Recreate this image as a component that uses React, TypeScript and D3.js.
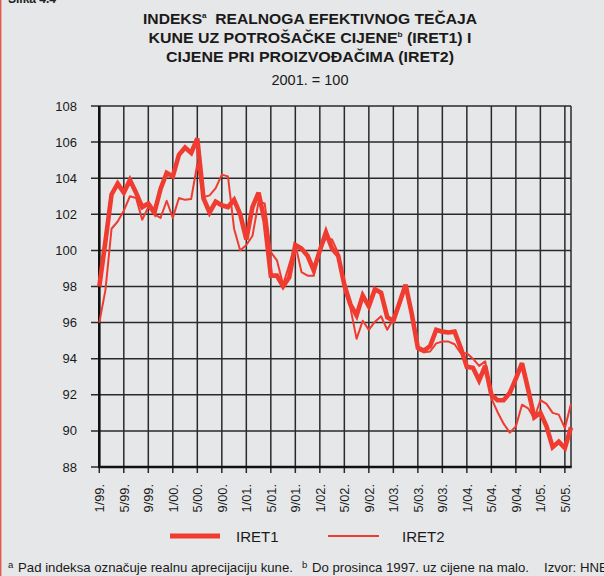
import React from 'react'
import * as d3 from 'd3'

// monthly, 1/99 .. 6/05
const months = d3.timeMonth.range(new Date(1999, 0, 1), new Date(2005, 6, 1))

const iret1 = [
  98.0, 100.5, 103.1, 103.7, 103.2, 103.9, 103.2, 102.4, 102.6, 102.1, 103.4, 104.3,
  104.1, 105.3, 105.7, 105.4, 106.2, 102.9, 102.1, 102.7, 102.5, 102.4, 102.8, 102.0,
  100.6, 102.4, 103.2, 101.6, 98.6, 98.6, 98.0, 98.5, 100.3, 100.1, 99.7, 98.9,
  100.0, 101.0, 100.1, 99.7, 98.1, 97.0, 96.4, 97.5, 96.9, 97.85, 97.65, 96.3,
  96.1, 97.1, 98.1, 96.5, 94.6, 94.45, 94.7, 95.6, 95.5, 95.45, 95.5, 94.6,
  93.55, 93.5, 92.8, 93.6, 92.0, 91.7, 91.7, 92.1, 92.9, 93.75, 92.3, 90.75,
  91.0, 90.25, 89.1, 89.4, 89.05, 90.2
]

const iret2 = [
  96.0, 97.8, 101.2, 101.6, 102.2, 103.0, 102.9, 101.7, 102.4, 102.0, 101.8, 102.75,
  101.8, 102.9, 102.8, 102.85, 104.8, 102.95, 103.05, 103.45, 104.2, 104.1, 101.2, 100.0,
  100.3, 100.8, 102.7, 102.6, 99.9, 99.45, 98.1, 99.2, 100.35, 98.8, 98.6, 98.6,
  100.0, 100.7, 100.6, 99.85, 97.8, 96.8, 95.1, 96.1, 95.6, 96.05, 96.35, 95.6,
  96.2, 96.9, 98.0, 96.7, 94.5, 94.35, 94.4, 94.85, 94.95, 94.95, 94.8, 94.3,
  94.3, 94.0, 93.6, 93.85, 91.8, 91.05, 90.4, 89.9, 90.25, 91.45, 91.25, 90.7,
  91.7, 91.5, 91.0, 90.9, 90.15, 91.5
]

const yTicks = [88, 90, 92, 94, 96, 98, 100, 102, 104, 106, 108]
const xTickLabels = [
  '1/99.', '5/99.', '9/99.', '1/00.', '5/00.', '9/00.', '1/01.', '5/01.', '9/01.', '1/02.',
  '5/02.', '9/02.', '1/03.', '5/03.', '9/03.', '1/04.', '5/04.', '9/04.', '1/05.', '5/05.'
]

const W = 604, H = 576
const left = 99.3, right = 571, top = 106, bottom = 467
const red = '#ef3b30'
const grid = '#2a2a2a'
const font = '"Liberation Sans", Arial, sans-serif'

const App = () => {
  const x = d3.scaleLinear().domain([0, months.length - 1]).range([left, right])
  const y = d3.scaleLinear().domain([88, 108]).range([bottom, top])
  const line = d3.line<number>().x((d, i) => x(i)).y(d => y(d))
  const tickIdx = xTickLabels.map((d, i) => i * 4)

  return (
    <svg width={W} height={H} style={{ position: 'absolute', left: 0, top: 0, display: 'block' }}
      fontFamily={font}>
      <rect width={W} height={H} fill="#e6e7e8" />
      <line x1={0.7} x2={0.7} y1={0} y2={H} stroke="#e5584f" strokeWidth={1.4} />
      <text x={8} y={3} fontSize={12} fontWeight="bold" fill="#222">Slika 4.4</text>

      {/* title */}
      <g fill="#1a1a1a" fontWeight="bold" fontSize={15.5} textAnchor="middle">
        <text x={310} y={24} textLength={334} lengthAdjust="spacingAndGlyphs">
          INDEKS<tspan fontSize={8} dy={-6}>a</tspan><tspan dy={6}>{'\u00a0 REALNOGA EFEKTIVNOG TEČAJA'}</tspan>
        </text>
        <text x={310} y={43} textLength={323} lengthAdjust="spacingAndGlyphs">
          KUNE UZ POTROŠAČKE CIJENE<tspan fontSize={8} dy={-6}>b</tspan><tspan dy={6}> (IRET1) I</tspan>
        </text>
        <text x={310} y={62} textLength={288} lengthAdjust="spacingAndGlyphs">
          CIJENE PRI PROIZVOĐAČIMA (IRET2)
        </text>
      </g>
      <text x={310} y={85} fontSize={14.5} textAnchor="middle" fill="#1a1a1a">2001. = 100</text>

      {/* grid */}
      {yTicks.map(t => (
        <g key={'y' + t}>
          <line x1={91} x2={right} y1={y(t)} y2={y(t)} stroke={grid} strokeWidth={1.5} />
          <text x={77} y={y(t) + 4.5} fontSize={13} textAnchor="end" fill="#1a1a1a">{t}</text>
        </g>
      ))}
      {tickIdx.map((idx, i) => (
        <g key={'x' + idx}>
          <line x1={x(idx)} x2={x(idx)} y1={top} y2={bottom + 6} stroke={grid} strokeWidth={1.5} />
          <text transform={`translate(${x(idx) + 5},${bottom + 17}) rotate(-90)`} fontSize={12.8}
            textAnchor="end" fill="#1a1a1a">{xTickLabels[i]}</text>
        </g>
      ))}
      <line x1={right} x2={right} y1={top} y2={bottom} stroke={grid} strokeWidth={1.5} />
      <line x1={left} x2={left} y1={top} y2={bottom + 1} stroke="#111" strokeWidth={2.6} />
      <line x1={left - 1} x2={right + 0.7} y1={bottom} y2={bottom} stroke="#111" strokeWidth={2.4} />

      {/* series */}
      <path d={line(iret2) || ''} fill="none" stroke={red} strokeWidth={2} strokeLinejoin="round" />
      <path d={line(iret1) || ''} fill="none" stroke={red} strokeWidth={4.6} strokeLinejoin="miter" strokeMiterlimit={3} />

      {/* legend */}
      <line x1={170} x2={220} y1={536} y2={536} stroke={red} strokeWidth={5} />
      <text x={236} y={542} fontSize={15} fill="#1a1a1a">IRET1</text>
      <line x1={328} x2={379} y1={536} y2={536} stroke={red} strokeWidth={2} />
      <text x={402} y={542} fontSize={15} fill="#1a1a1a">IRET2</text>

      {/* footnote */}
      <text x={8} y={572} fontSize={13.2} fill="#1a1a1a">
        <tspan fontSize={9.5} dy={-4.5}>a</tspan>
        <tspan x={18} dy={4.5}>Pad indeksa označuje realnu aprecijaciju kune.</tspan>
        <tspan x={302} fontSize={9.5} dy={-4.5}>b</tspan>
        <tspan x={312} dy={4.5}>Do prosinca 1997. uz cijene na malo.</tspan>
        <tspan x={544}>Izvor: HNB</tspan>
      </text>
    </svg>
  )
}

export default App
